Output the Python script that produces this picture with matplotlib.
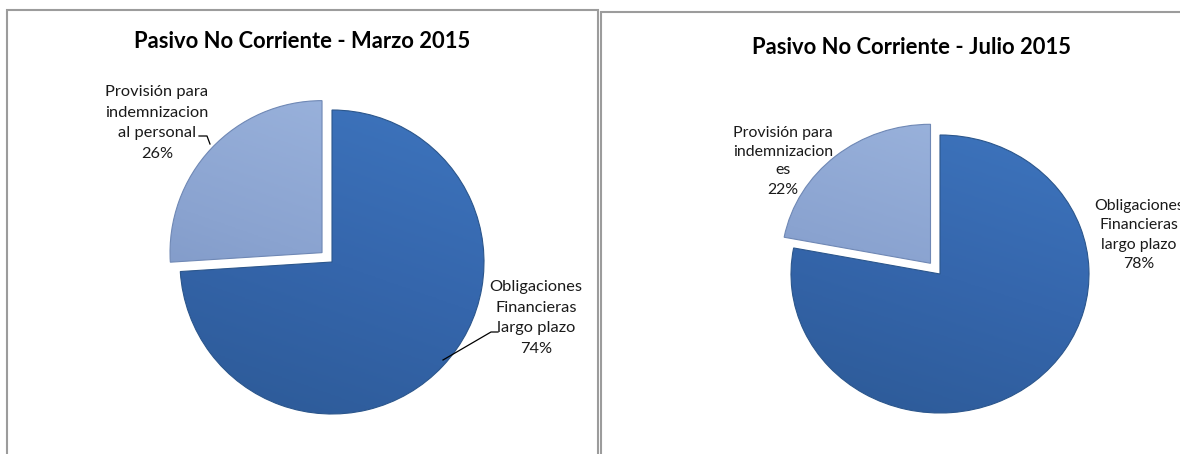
import matplotlib
matplotlib.use("Agg")
import matplotlib.pyplot as plt
import numpy as np
from matplotlib.patches import Rectangle
from matplotlib.lines import Line2D
from matplotlib.colors import LinearSegmentedColormap

W, H = 1180, 454
plt.rcParams['font.family'] = ['Lato', 'DejaVu Sans']

# ---- data ----
titles = ["Pasivo No Corriente - Marzo 2015", "Pasivo No Corriente - Julio 2015"]
cats_marzo = ["Obligaciones\nFinancieras\nlargo plazo", "Provisión para\nindemnizacion\nal personal"]
vals_marzo = [74, 26]
cats_julio = ["Obligaciones\nFinancieras\nlargo plazo", "Provisión para\nindemnizacion\nes"]
vals_julio = [78, 22]

fig = plt.figure(figsize=(W / 100, H / 100), dpi=100)

main_cmap = LinearSegmentedColormap.from_list("m", ["#2A5690", "#3566AC", "#4079C3"])
small_cmap = LinearSegmentedColormap.from_list("s", ["#6C86B6", "#8AA3D0", "#A2BAE2"])

def px(x, y):
    return x / W, 1 - y / H

def draw_pie(cx, cy, rx, ry, values, cats, explode, fs, label_pos, line_h, leaders):
    ax = fig.add_axes([0, 0, 1, 1])
    wedges, _ = ax.pie(values, startangle=90, counterclock=False,
                       explode=[0, explode], radius=1, center=(0, 0),
                       wedgeprops=dict(linewidth=0))
    yy, xx = np.mgrid[-1.3:1.3:300j, -1.3:1.3:300j]
    grad = (yy * 1.0 + xx * 0.35)
    grad = (grad - grad.min()) / (grad.max() - grad.min())
    edge_cols = ["#2B568C", "#6F88B5"]
    for w, cmap, ec in zip(wedges, [main_cmap, small_cmap], edge_cols):
        w.set_facecolor("none")
        w.set_edgecolor(ec)
        w.set_linewidth(0.8)
        w.set_zorder(2)
        im = ax.imshow(grad, extent=[-1.3, 1.3, -1.3, 1.3], origin="lower",
                       cmap=cmap, aspect="auto", interpolation="bilinear", zorder=1)
        im.set_clip_path(w)
    ax.set_aspect("auto")
    ax.set_xlim(-cx / rx, (W - cx) / rx)
    ax.set_ylim(-(H - cy) / ry, cy / ry)
    ax.axis("off")
    ax.patch.set_alpha(0)
    # labels
    for cat, v, (lx, ly) in zip(cats, values, label_pos):
        lines = cat.split("\n") + [f"{v}%"]
        n = len(lines)
        for i, t in enumerate(lines):
            yline = ly + (i - (n - 1) / 2) * line_h
            fig.text(*px(lx, yline), t, ha="center", va="center", fontsize=fs, color="#1a1a1a")
    for pts in leaders:
        xs = [p[0] / W for p in pts]
        ys = [1 - p[1] / H for p in pts]
        fig.add_artist(Line2D(xs, ys, transform=fig.transFigure, color="black", lw=0.9))

# panel borders
fig.add_artist(Rectangle(px(7, 470), (598 - 7) / W, (470 - 10) / H, transform=fig.transFigure,
                         fill=False, edgecolor="#9c9c9c", lw=1.5))
fig.add_artist(Rectangle(px(601, 470), (1300 - 601) / W, (470 - 12) / H, transform=fig.transFigure,
                         fill=False, edgecolor="#9c9c9c", lw=1.5))

# titles
fig.text(*px(302, 41), titles[0], ha="center", va="center", fontsize=15.8, fontweight="bold", color="black")
fig.text(*px(911, 48), titles[1], ha="center", va="center", fontsize=15.8, fontweight="bold", color="black")

draw_pie(332, 262, 152, 152, vals_marzo, cats_marzo, 0.09, 11.8,
         [(536, 318), (157, 123)], 20.5,
         [[(498, 332), (491, 332), (443, 360)], [(199, 136), (207, 136), (210, 144)]])
draw_pie(940, 274, 149, 139, vals_julio, cats_julio, 0.10, 11.4,
         [(1139, 235), (783, 161)], 19, [])

fig.savefig("out.png", dpi=100)
